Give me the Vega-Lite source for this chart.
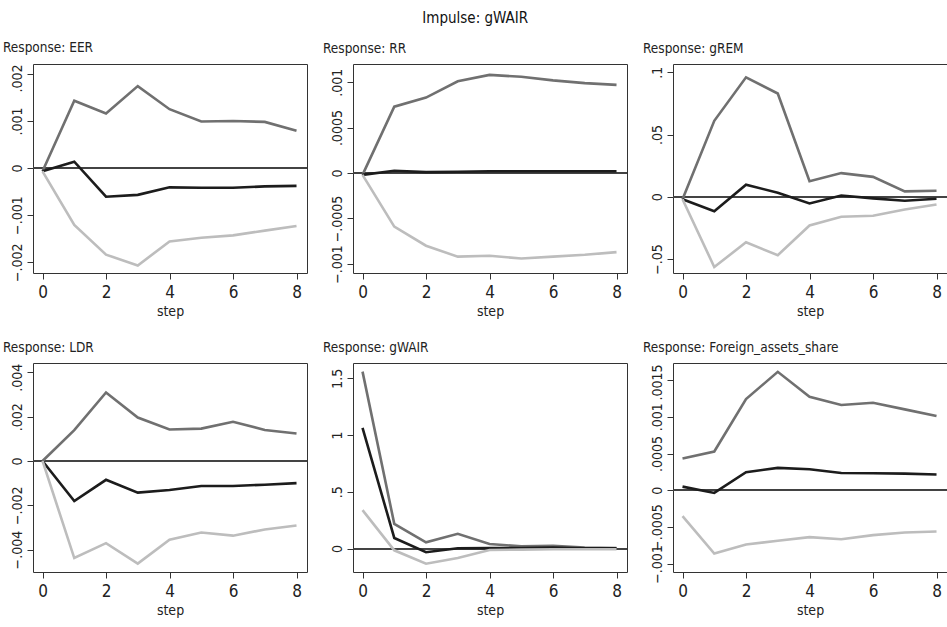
{
  "$schema": "https://vega.github.io/schema/vega-lite/v6.json",
  "padding": {"left": 2, "top": 10, "right": 0, "bottom": 0},
  "title": {"text": "Impulse: gWAIR", "anchor": "middle", "fontSize": 15, "fontWeight": "normal", "color": "#111", "offset": 15, "font": "DejaVu Sans Condensed"},
  "config": {
    "font": "DejaVu Sans Condensed",
    "view": {"stroke": "#333", "strokeWidth": 1},
    "axis": {"grid": false, "domain": false, "tickColor": "#333", "tickSize": 6, "labelFontSize": 17, "labelColor": "#222", "titleFontSize": 14, "titleFontWeight": "normal", "titleColor": "#222", "labelFont": "DejaVu Sans Condensed", "titleFont": "DejaVu Sans Condensed", "labelOverlap": false},
    "axisY": {"labelAngle": 270, "labelAlign": "center", "labelBaseline": "bottom", "labelPadding": 3, "labelFontSize": 14, "minExtent": 30, "maxExtent": 30},
    "axisX": {"labelPadding": 5, "titlePadding": 4},
    "title": {"anchor": "start", "fontSize": 13.5, "fontWeight": "normal", "color": "#222", "offset": 9, "font": "DejaVu Sans Condensed"}
  },
  "datasets": {
    "irf": [
      {"panel":"EER","series":"upper","step":0,"value":-0.00007},{"panel":"EER","series":"upper","step":1,"value":0.00143},{"panel":"EER","series":"upper","step":2,"value":0.00116},{"panel":"EER","series":"upper","step":3,"value":0.00174},{"panel":"EER","series":"upper","step":4,"value":0.00125},{"panel":"EER","series":"upper","step":5,"value":0.00099},{"panel":"EER","series":"upper","step":6,"value":0.001},{"panel":"EER","series":"upper","step":7,"value":0.00098},{"panel":"EER","series":"upper","step":8,"value":0.00079},
      {"panel":"EER","series":"irf","step":0,"value":-0.00007},{"panel":"EER","series":"irf","step":1,"value":0.000135},{"panel":"EER","series":"irf","step":2,"value":-0.00061},{"panel":"EER","series":"irf","step":3,"value":-0.00057},{"panel":"EER","series":"irf","step":4,"value":-0.00041},{"panel":"EER","series":"irf","step":5,"value":-0.00042},{"panel":"EER","series":"irf","step":6,"value":-0.00042},{"panel":"EER","series":"irf","step":7,"value":-0.00039},{"panel":"EER","series":"irf","step":8,"value":-0.00038},
      {"panel":"EER","series":"lower","step":0,"value":-0.00007},{"panel":"EER","series":"lower","step":1,"value":-0.00121},{"panel":"EER","series":"lower","step":2,"value":-0.00184},{"panel":"EER","series":"lower","step":3,"value":-0.00207},{"panel":"EER","series":"lower","step":4,"value":-0.00156},{"panel":"EER","series":"lower","step":5,"value":-0.00148},{"panel":"EER","series":"lower","step":6,"value":-0.00143},{"panel":"EER","series":"lower","step":7,"value":-0.00133},{"panel":"EER","series":"lower","step":8,"value":-0.00123},
      {"panel":"RR","series":"upper","step":0,"value":-0.00002},{"panel":"RR","series":"upper","step":1,"value":0.00073},{"panel":"RR","series":"upper","step":2,"value":0.00083},{"panel":"RR","series":"upper","step":3,"value":0.00101},{"panel":"RR","series":"upper","step":4,"value":0.00108},{"panel":"RR","series":"upper","step":5,"value":0.00106},{"panel":"RR","series":"upper","step":6,"value":0.00102},{"panel":"RR","series":"upper","step":7,"value":0.00099},{"panel":"RR","series":"upper","step":8,"value":0.00097},
      {"panel":"RR","series":"irf","step":0,"value":-0.00002},{"panel":"RR","series":"irf","step":1,"value":0.000025},{"panel":"RR","series":"irf","step":2,"value":0.00001},{"panel":"RR","series":"irf","step":3,"value":0.000015},{"panel":"RR","series":"irf","step":4,"value":0.00002},{"panel":"RR","series":"irf","step":5,"value":0.00002},{"panel":"RR","series":"irf","step":6,"value":0.00002},{"panel":"RR","series":"irf","step":7,"value":0.00002},{"panel":"RR","series":"irf","step":8,"value":0.00002},
      {"panel":"RR","series":"lower","step":0,"value":-0.00002},{"panel":"RR","series":"lower","step":1,"value":-0.00059},{"panel":"RR","series":"lower","step":2,"value":-0.0008},{"panel":"RR","series":"lower","step":3,"value":-0.00092},{"panel":"RR","series":"lower","step":4,"value":-0.00091},{"panel":"RR","series":"lower","step":5,"value":-0.00094},{"panel":"RR","series":"lower","step":6,"value":-0.00092},{"panel":"RR","series":"lower","step":7,"value":-0.0009},{"panel":"RR","series":"lower","step":8,"value":-0.00087},
      {"panel":"gREM","series":"upper","step":0,"value":-0.002},{"panel":"gREM","series":"upper","step":1,"value":0.061},{"panel":"gREM","series":"upper","step":2,"value":0.096},{"panel":"gREM","series":"upper","step":3,"value":0.083},{"panel":"gREM","series":"upper","step":4,"value":0.0124},{"panel":"gREM","series":"upper","step":5,"value":0.019},{"panel":"gREM","series":"upper","step":6,"value":0.016},{"panel":"gREM","series":"upper","step":7,"value":0.0043},{"panel":"gREM","series":"upper","step":8,"value":0.0048},
      {"panel":"gREM","series":"irf","step":0,"value":-0.002},{"panel":"gREM","series":"irf","step":1,"value":-0.0116},{"panel":"gREM","series":"irf","step":2,"value":0.0097},{"panel":"gREM","series":"irf","step":3,"value":0.0032},{"panel":"gREM","series":"irf","step":4,"value":-0.0054},{"panel":"gREM","series":"irf","step":5,"value":0.001},{"panel":"gREM","series":"irf","step":6,"value":-0.0013},{"panel":"gREM","series":"irf","step":7,"value":-0.0032},{"panel":"gREM","series":"irf","step":8,"value":-0.0016},
      {"panel":"gREM","series":"lower","step":0,"value":-0.002},{"panel":"gREM","series":"lower","step":1,"value":-0.0565},{"panel":"gREM","series":"lower","step":2,"value":-0.0366},{"panel":"gREM","series":"lower","step":3,"value":-0.047},{"panel":"gREM","series":"lower","step":4,"value":-0.0231},{"panel":"gREM","series":"lower","step":5,"value":-0.0161},{"panel":"gREM","series":"lower","step":6,"value":-0.0153},{"panel":"gREM","series":"lower","step":7,"value":-0.0102},{"panel":"gREM","series":"lower","step":8,"value":-0.0062},
      {"panel":"LDR","series":"upper","step":0,"value":0},{"panel":"LDR","series":"upper","step":1,"value":0.00139},{"panel":"LDR","series":"upper","step":2,"value":0.00309},{"panel":"LDR","series":"upper","step":3,"value":0.00196},{"panel":"LDR","series":"upper","step":4,"value":0.00142},{"panel":"LDR","series":"upper","step":5,"value":0.00146},{"panel":"LDR","series":"upper","step":6,"value":0.00177},{"panel":"LDR","series":"upper","step":7,"value":0.0014},{"panel":"LDR","series":"upper","step":8,"value":0.00124},
      {"panel":"LDR","series":"irf","step":0,"value":0},{"panel":"LDR","series":"irf","step":1,"value":-0.00181},{"panel":"LDR","series":"irf","step":2,"value":-0.00085},{"panel":"LDR","series":"irf","step":3,"value":-0.00143},{"panel":"LDR","series":"irf","step":4,"value":-0.00131},{"panel":"LDR","series":"irf","step":5,"value":-0.00113},{"panel":"LDR","series":"irf","step":6,"value":-0.00113},{"panel":"LDR","series":"irf","step":7,"value":-0.00107},{"panel":"LDR","series":"irf","step":8,"value":-0.001},
      {"panel":"LDR","series":"lower","step":0,"value":0},{"panel":"LDR","series":"lower","step":1,"value":-0.00438},{"panel":"LDR","series":"lower","step":2,"value":-0.00371},{"panel":"LDR","series":"lower","step":3,"value":-0.00463},{"panel":"LDR","series":"lower","step":4,"value":-0.00355},{"panel":"LDR","series":"lower","step":5,"value":-0.00323},{"panel":"LDR","series":"lower","step":6,"value":-0.00337},{"panel":"LDR","series":"lower","step":7,"value":-0.00309},{"panel":"LDR","series":"lower","step":8,"value":-0.00291},
      {"panel":"gWAIR","series":"upper","step":0,"value":1.559},{"panel":"gWAIR","series":"upper","step":1,"value":0.218},{"panel":"gWAIR","series":"upper","step":2,"value":0.056},{"panel":"gWAIR","series":"upper","step":3,"value":0.13},{"panel":"gWAIR","series":"upper","step":4,"value":0.041},{"panel":"gWAIR","series":"upper","step":5,"value":0.02},{"panel":"gWAIR","series":"upper","step":6,"value":0.024},{"panel":"gWAIR","series":"upper","step":7,"value":0.009},{"panel":"gWAIR","series":"upper","step":8,"value":0.006},
      {"panel":"gWAIR","series":"irf","step":0,"value":1.064},{"panel":"gWAIR","series":"irf","step":1,"value":0.094},{"panel":"gWAIR","series":"irf","step":2,"value":-0.032},{"panel":"gWAIR","series":"irf","step":3,"value":0.003},{"panel":"gWAIR","series":"irf","step":4,"value":0.006},{"panel":"gWAIR","series":"irf","step":5,"value":0.006},{"panel":"gWAIR","series":"irf","step":6,"value":0.009},{"panel":"gWAIR","series":"irf","step":7,"value":0.003},{"panel":"gWAIR","series":"irf","step":8,"value":0.003},
      {"panel":"gWAIR","series":"lower","step":0,"value":0.339},{"panel":"gWAIR","series":"lower","step":1,"value":-0.015},{"panel":"gWAIR","series":"lower","step":2,"value":-0.133},{"panel":"gWAIR","series":"lower","step":3,"value":-0.082},{"panel":"gWAIR","series":"lower","step":4,"value":-0.012},{"panel":"gWAIR","series":"lower","step":5,"value":-0.009},{"panel":"gWAIR","series":"lower","step":6,"value":-0.006},{"panel":"gWAIR","series":"lower","step":7,"value":-0.006},{"panel":"gWAIR","series":"lower","step":8,"value":-0.006},
      {"panel":"FAS","series":"upper","step":0,"value":0.000432},{"panel":"FAS","series":"upper","step":1,"value":0.000527},{"panel":"FAS","series":"upper","step":2,"value":0.00124},{"panel":"FAS","series":"upper","step":3,"value":0.00161},{"panel":"FAS","series":"upper","step":4,"value":0.00127},{"panel":"FAS","series":"upper","step":5,"value":0.00116},{"panel":"FAS","series":"upper","step":6,"value":0.00119},{"panel":"FAS","series":"upper","step":7,"value":0.0011},{"panel":"FAS","series":"upper","step":8,"value":0.00101},
      {"panel":"FAS","series":"irf","step":0,"value":0.00005},{"panel":"FAS","series":"irf","step":1,"value":-0.000036},{"panel":"FAS","series":"irf","step":2,"value":0.000245},{"panel":"FAS","series":"irf","step":3,"value":0.000305},{"panel":"FAS","series":"irf","step":4,"value":0.000286},{"panel":"FAS","series":"irf","step":5,"value":0.000236},{"panel":"FAS","series":"irf","step":6,"value":0.000232},{"panel":"FAS","series":"irf","step":7,"value":0.000227},{"panel":"FAS","series":"irf","step":8,"value":0.000214},
      {"panel":"FAS","series":"lower","step":0,"value":-0.00035},{"panel":"FAS","series":"lower","step":1,"value":-0.00086},{"panel":"FAS","series":"lower","step":2,"value":-0.000736},{"panel":"FAS","series":"lower","step":3,"value":-0.000686},{"panel":"FAS","series":"lower","step":4,"value":-0.000636},{"panel":"FAS","series":"lower","step":5,"value":-0.000664},{"panel":"FAS","series":"lower","step":6,"value":-0.000609},{"panel":"FAS","series":"lower","step":7,"value":-0.000573},{"panel":"FAS","series":"lower","step":8,"value":-0.000559}
    ]
  },
  "columns": 3,
  "bounds": "flush",
  "spacing": {"row": 90, "column": 46},
  "concat": [
    {
      "title": "Response: EER", "width": 274, "height": 209,
      "data": {"name": "irf"}, "transform": [{"filter": "datum.panel === 'EER'"}],
      "layer": [
        {"mark": {"type": "rule", "color": "#444", "strokeWidth": 1}, "encoding": {"y": {"datum": 0, "type": "quantitative"}}},
        {"mark": {"type": "line", "strokeWidth": 2.6}, "encoding": {
          "x": {"field": "step", "type": "quantitative", "scale": {"domain": [-0.3, 8.33], "nice": false}, "axis": {"values": [0, 2, 4, 6, 8], "title": "step"}},
          "y": {"field": "value", "type": "quantitative", "scale": {"domain": [-0.00223, 0.00221], "nice": false, "zero": false}, "axis": {"values": [-0.002, -0.001, 0, 0.001, 0.002], "title": null, "format": ".4~f", "labelExpr": "replace(datum.label, '0.', '.')", "labelOffset": {"condition": {"test": "datum.value === 0.002", "value": 4}, "value": 0}}},
          "color": {"field": "series", "type": "nominal", "scale": {"domain": ["upper", "irf", "lower"], "range": ["#707070", "#1c1c1c", "#bdbdbd"]}, "legend": null}
        }}
      ]
    },
    {
      "title": "Response: RR", "width": 274, "height": 209,
      "data": {"name": "irf"}, "transform": [{"filter": "datum.panel === 'RR'"}],
      "layer": [
        {"mark": {"type": "rule", "color": "#444", "strokeWidth": 1}, "encoding": {"y": {"datum": 0, "type": "quantitative"}}},
        {"mark": {"type": "line", "strokeWidth": 2.6}, "encoding": {
          "x": {"field": "step", "type": "quantitative", "scale": {"domain": [-0.3, 8.33], "nice": false}, "axis": {"values": [0, 2, 4, 6, 8], "title": "step"}},
          "y": {"field": "value", "type": "quantitative", "scale": {"domain": [-0.0011, 0.0012], "nice": false, "zero": false}, "axis": {"values": [-0.001, -0.0005, 0, 0.0005, 0.001], "title": null, "format": ".4~f", "labelExpr": "replace(datum.label, '0.', '.')"}},
          "color": {"field": "series", "type": "nominal", "scale": {"domain": ["upper", "irf", "lower"], "range": ["#707070", "#1c1c1c", "#bdbdbd"]}, "legend": null}
        }}
      ]
    },
    {
      "title": "Response: gREM", "width": 274, "height": 209,
      "data": {"name": "irf"}, "transform": [{"filter": "datum.panel === 'gREM'"}],
      "layer": [
        {"mark": {"type": "rule", "color": "#444", "strokeWidth": 1}, "encoding": {"y": {"datum": 0, "type": "quantitative"}}},
        {"mark": {"type": "line", "strokeWidth": 2.6}, "encoding": {
          "x": {"field": "step", "type": "quantitative", "scale": {"domain": [-0.3, 8.33], "nice": false}, "axis": {"values": [0, 2, 4, 6, 8], "title": "step"}},
          "y": {"field": "value", "type": "quantitative", "scale": {"domain": [-0.0613, 0.1067], "nice": false, "zero": false}, "axis": {"values": [-0.05, 0, 0.05, 0.1], "title": null, "format": ".4~f", "labelExpr": "replace(datum.label, '0.', '.')"}},
          "color": {"field": "series", "type": "nominal", "scale": {"domain": ["upper", "irf", "lower"], "range": ["#707070", "#1c1c1c", "#bdbdbd"]}, "legend": null}
        }}
      ]
    },
    {
      "title": "Response: LDR", "width": 274, "height": 209,
      "data": {"name": "irf"}, "transform": [{"filter": "datum.panel === 'LDR'"}],
      "layer": [
        {"mark": {"type": "rule", "color": "#444", "strokeWidth": 1}, "encoding": {"y": {"datum": 0, "type": "quantitative"}}},
        {"mark": {"type": "line", "strokeWidth": 2.6}, "encoding": {
          "x": {"field": "step", "type": "quantitative", "scale": {"domain": [-0.3, 8.33], "nice": false}, "axis": {"values": [0, 2, 4, 6, 8], "title": "step"}},
          "y": {"field": "value", "type": "quantitative", "scale": {"domain": [-0.00501, 0.00442], "nice": false, "zero": false}, "axis": {"values": [-0.004, -0.002, 0, 0.002, 0.004], "title": null, "format": ".4~f", "labelExpr": "replace(datum.label, '0.', '.')", "labelOffset": {"condition": {"test": "datum.value === 0.004", "value": 5}, "value": 0}}},
          "color": {"field": "series", "type": "nominal", "scale": {"domain": ["upper", "irf", "lower"], "range": ["#707070", "#1c1c1c", "#bdbdbd"]}, "legend": null}
        }}
      ]
    },
    {
      "title": "Response: gWAIR", "width": 274, "height": 209,
      "data": {"name": "irf"}, "transform": [{"filter": "datum.panel === 'gWAIR'"}],
      "layer": [
        {"mark": {"type": "rule", "color": "#444", "strokeWidth": 1}, "encoding": {"y": {"datum": 0, "type": "quantitative"}}},
        {"mark": {"type": "line", "strokeWidth": 2.6}, "encoding": {
          "x": {"field": "step", "type": "quantitative", "scale": {"domain": [-0.3, 8.33], "nice": false}, "axis": {"values": [0, 2, 4, 6, 8], "title": "step"}},
          "y": {"field": "value", "type": "quantitative", "scale": {"domain": [-0.206, 1.635], "nice": false, "zero": false}, "axis": {"values": [0, 0.5, 1, 1.5], "title": null, "format": ".4~f", "labelExpr": "replace(datum.label, '0.', '.')"}},
          "color": {"field": "series", "type": "nominal", "scale": {"domain": ["upper", "irf", "lower"], "range": ["#707070", "#1c1c1c", "#bdbdbd"]}, "legend": null}
        }}
      ]
    },
    {
      "title": "Response: Foreign_assets_share", "width": 274, "height": 209,
      "data": {"name": "irf"}, "transform": [{"filter": "datum.panel === 'FAS'"}],
      "layer": [
        {"mark": {"type": "rule", "color": "#444", "strokeWidth": 1}, "encoding": {"y": {"datum": 0, "type": "quantitative"}}},
        {"mark": {"type": "line", "strokeWidth": 2.6}, "encoding": {
          "x": {"field": "step", "type": "quantitative", "scale": {"domain": [-0.3, 8.33], "nice": false}, "axis": {"values": [0, 2, 4, 6, 8], "title": "step"}},
          "y": {"field": "value", "type": "quantitative", "scale": {"domain": [-0.00111, 0.00173], "nice": false, "zero": false}, "axis": {"values": [-0.001, -0.0005, 0, 0.0005, 0.001, 0.0015], "title": null, "format": ".4~f", "labelExpr": "replace(datum.label, '0.', '.')", "labelOffset": {"condition": {"test": "datum.value === 0.0015", "value": 2}, "value": 0}}},
          "color": {"field": "series", "type": "nominal", "scale": {"domain": ["upper", "irf", "lower"], "range": ["#707070", "#1c1c1c", "#bdbdbd"]}, "legend": null}
        }}
      ]
    }
  ]
}
